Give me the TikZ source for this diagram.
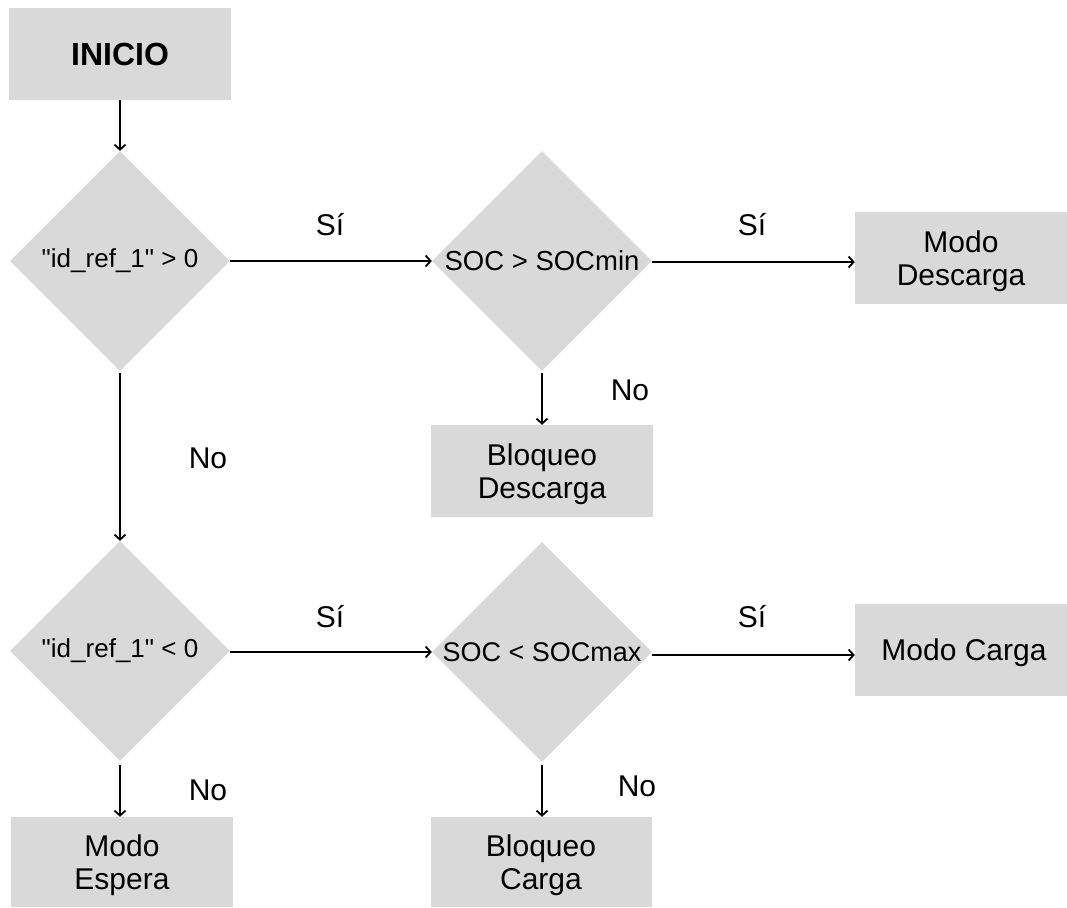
\documentclass[tikz,border=0pt]{standalone}
\usepackage{fontspec}
\setmainfont{Liberation Sans}
\usetikzlibrary{shapes.geometric,arrows.meta}
\definecolor{boxgray}{HTML}{D9D9D9}
% straight double quote, taken directly from the font glyph
\newcommand{\dq}{\XeTeXglyph\XeTeXglyphindex "quotedbl"\relax}
\tikzset{
  base/.style={fill=boxgray, draw=none, inner sep=0pt, align=center, text=black},
  procbox/.style={base, rectangle, minimum width=222pt, minimum height=92pt,
    text depth=0pt, font=\fontsize{30}{33}\selectfont},
  decision/.style={base, diamond, minimum width=220pt, minimum height=220pt,
    font=\fontsize{26}{30}\selectfont},
  flow/.style={line width=1.8pt, -{Straight Barb[length=5pt,width=11pt,line width=1.8pt]}},
  lbl/.style={font=\fontsize{30}{34}\selectfont, inner sep=0pt}
}
\begin{document}
\begin{tikzpicture}[x=1pt,y=-1pt]
\useasboundingbox (0,0) rectangle (1067,907);

% process boxes
\node[procbox, font=\bfseries\fontsize{32}{36}\selectfont] (inicio) at (120,54) {INICIO};
\node[procbox, minimum width=212pt] (md) at (961,258) {Modo\\Descarga};
\node[procbox] (bd) at (542,471) {Bloqueo\\Descarga};
\node[procbox, minimum width=212pt] (mc) at (961,650) {\hspace*{6pt}Modo Carga};
\node[procbox, minimum height=90pt] (me) at (122,862) {Modo\\Espera};
\node[procbox, minimum width=221pt, minimum height=90pt] (bc) at (541,862) {Bloqueo\\Carga};

% decisions
\node[decision] (d1) at (120,261) {\dq id\_ref\_1\dq{} > 0};
\node[decision, font=\fontsize{27.5}{31}\selectfont] (d2) at (542,261) {SOC > SOCmin};
\node[decision] (d3) at (120,651) {\dq id\_ref\_1\dq{} < 0};
\node[decision, font=\fontsize{27}{31}\selectfont] (d4) at (542,652) {SOC < SOCmax};

% connectors
\draw[flow] (inicio.south -| d1.north) -- (d1.north);
\draw[flow] (d1.east) -- (d2.west);
\draw[flow] ([yshift=-1pt]d2.east) -- ([yshift=-1pt]d2.east -| md.west);
\draw[flow] ([yshift=-2pt]d2.south) -- (bd.north);
\draw[flow] ([yshift=-2pt]d1.south) -- (d3.north);
\draw[flow] ([yshift=-1pt]d3.east) -- ([yshift=-1pt]d3.east -| d4.west);
\draw[flow] ([yshift=-3pt]d4.east) -- ([yshift=-3pt]d4.east -| mc.west);
\draw[flow] ([yshift=-4pt]d3.south) -- (d3.south |- me.north);
\draw[flow] ([yshift=-3pt]d4.south) -- (d4.south |- bc.north);

% branch labels
\node[lbl] (s1) at (330,225) {Sí};
\node[lbl] (s2) at (752,225) {Sí};
\node[lbl] (n1) at (630,390) {No};
\node[lbl] (n2) at (208,458) {No};
\node[lbl] (s3) at (330,617) {Sí};
\node[lbl] (s4) at (752,617) {Sí};
\node[lbl] (n3) at (208,790) {No};
\node[lbl] (n4) at (637,786) {No};
\end{tikzpicture}
\end{document}
